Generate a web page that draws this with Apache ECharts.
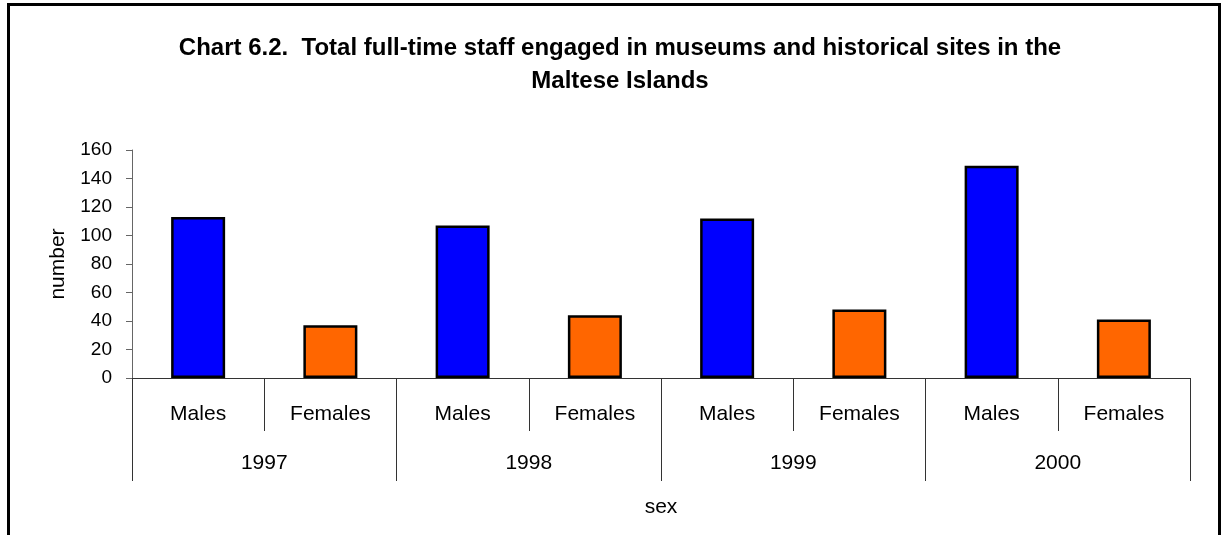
<!DOCTYPE html>
<html>
<head>
<meta charset="utf-8">
<title>Chart 6.2</title>
<script src="https://cdn.jsdelivr.net/npm/echarts@6/dist/echarts.min.js"></script>
<style>
  html, body { margin: 0; padding: 0; background: #fff; }
  #chart { width: 1223px; height: 535px; }
</style>
</head>
<body>
<div id="chart"></div>
<script>
// data
const years = ['1997', '1998', '1999', '2000'];
const sexes = ['Males', 'Females'];
const males = [113, 107, 112, 149];
const females = [37, 44, 48, 41];
const yTicks = [0, 20, 40, 60, 80, 100, 120, 140, 160];

// 8 slots: Males/Females for each year
const slots = [];
const maleData = [];
const femaleData = [];
years.forEach((y, i) => {
  slots.push(sexes[0], sexes[1]);
  maleData.push(males[i], '-');
  femaleData.push('-', females[i]);
});

const chart = echarts.init(document.getElementById('chart'));
const font = 'Liberation Sans, Arial, sans-serif';

chart.setOption({
  animation: false,
  textStyle: { fontFamily: font },
  title: {
    text: 'Chart 6.2.  Total full-time staff engaged in museums and historical sites in the\nMaltese Islands',
    left: 615,
    top: 27,
    textAlign: 'center',
    textStyle: { fontSize: 24, fontWeight: 'bold', color: '#000', lineHeight: 33, fontFamily: font }
  },
  graphic: [{
    type: 'rect',
    shape: { x: 8.5, y: 4.5, width: 1211, height: 600 },
    style: { fill: 'none', stroke: '#000', lineWidth: 3 },
    silent: true
  }],
  grid: { left: 132, right: 33, top: 150, bottom: 157 },
  xAxis: [
    {
      type: 'category',
      data: slots,
      position: 'bottom',
      axisLine: { lineStyle: { color: '#333', width: 1 } },
      axisTick: { show: true, interval: 0, length: 53, lineStyle: { color: '#333' } },
      axisLabel: { interval: 0, margin: 26, fontSize: 21, color: '#000' }
    },
    {
      type: 'category',
      data: years,
      position: 'bottom',
      name: 'sex',
      nameLocation: 'middle',
      nameGap: 119,
      nameTextStyle: { fontSize: 21, color: '#000' },
      axisLine: { show: false },
      axisTick: { show: true, interval: 0, length: 103, lineStyle: { color: '#333' } },
      axisLabel: { interval: 0, margin: 75, fontSize: 21, color: '#000' }
    }
  ],
  yAxis: {
    type: 'value',
    min: 0,
    max: 160,
    interval: 20,
    name: 'number',
    nameLocation: 'middle',
    nameGap: 63,
    nameTextStyle: { fontSize: 21, color: '#000' },
    axisLine: { show: true, lineStyle: { color: '#666', width: 1 } },
    axisTick: { show: true, length: 6, lineStyle: { color: '#666' } },
    axisLabel: {
      fontSize: 19, color: '#000', margin: 20,
      formatter: v => (yTicks.indexOf(v) >= 0 ? String(v) : '')
    },
    splitLine: { show: false }
  },
  series: [
    {
      name: 'Males',
      type: 'bar',
      xAxisIndex: 0,
      data: maleData,
      barWidth: 54,
      barGap: '-100%',
      itemStyle: { color: '#0000ff', borderColor: '#000', borderWidth: 2.5 }
    },
    {
      name: 'Females',
      type: 'bar',
      xAxisIndex: 0,
      data: femaleData,
      barWidth: 54,
      barGap: '-100%',
      itemStyle: { color: '#ff6600', borderColor: '#000', borderWidth: 2.5 }
    }
  ]
});

window.addEventListener('resize', () => chart.resize());
</script>
</body>
</html>
